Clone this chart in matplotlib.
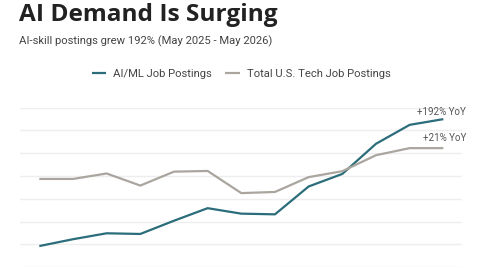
import matplotlib
matplotlib.use("Agg")
import matplotlib.pyplot as plt

# Monthly index values (May 2025 - May 2026)
months = ["May 25", "Jun 25", "Jul 25", "Aug 25", "Sep 25", "Oct 25", "Nov 25",
          "Dec 25", "Jan 26", "Feb 26", "Mar 26", "Apr 26", "May 26"]
ai_ml = [0.93, 1.23, 1.49, 1.46, 2.04, 2.59, 2.35, 2.32, 3.54, 4.09, 5.41, 6.24, 6.49]
total_tech = [3.87, 3.87, 4.11, 3.58, 4.19, 4.22, 3.25, 3.30, 3.95, 4.21, 4.91, 5.22, 5.22]
ai_label = "+192% YoY"
tech_label = "+21% YoY"

teal = "#2b6d7a"
gray = "#aaa69f"

plt.rcParams['font.family'] = ['Roboto', 'DejaVu Sans']

fig = plt.figure(figsize=(4.8, 2.7), dpi=100)
ax = fig.add_axes([20 / 480, 2.7 / 270, 442 / 480, 159.8 / 270])

x = list(range(len(months)))
ax.plot(x, ai_ml, color=teal, lw=1.6, label="AI/ML Job Postings", solid_capstyle="butt")
ax.plot(x, total_tech, color=gray, lw=1.6, label="Total U.S. Tech Job Postings", solid_capstyle="butt")

ax.set_xlim(-0.573, 12.555)
ax.set_ylim(0, 7)
ax.set_yticks(range(8))
ax.grid(axis="y", color="#eeeeee", lw=1)
ax.set_axisbelow(True)
ax.tick_params(left=False, bottom=False, labelleft=False, labelbottom=False)
for s in ax.spines.values():
    s.set_visible(False)

# end labels
ax.annotate(ai_label, xy=(1.0, ai_ml[-1]), xycoords=("axes fraction", "data"),
            xytext=(3, 5.5), textcoords="offset points", ha="right", va="center",
            fontsize=7, color="#555555")
ax.annotate(tech_label, xy=(1.0, total_tech[-1]), xycoords=("axes fraction", "data"),
            xytext=(3, 7.5), textcoords="offset points", ha="right", va="center",
            fontsize=7, color="#555555")

fig.text(19 / 480, 1 - 15 / 270, "AI Demand Is Surging", fontsize=17.6, fontweight="bold",
         family=["Open Sans", "DejaVu Sans"], color="#222222", va="center", ha="left")
fig.text(19 / 480, 1 - 41 / 270, "AI-skill postings grew 192% (May 2025 - May 2026)",
         fontsize=8.15, color="#444444", va="center", ha="left")

fig.legend(loc="center", bbox_to_anchor=(241 / 480, 1 - 74.3 / 270), ncol=2, frameon=False,
           fontsize=8.1, handlelength=1.3, handletextpad=0.6, columnspacing=1.2,
           labelcolor="#444444")

fig.savefig("out.png", dpi=100)
